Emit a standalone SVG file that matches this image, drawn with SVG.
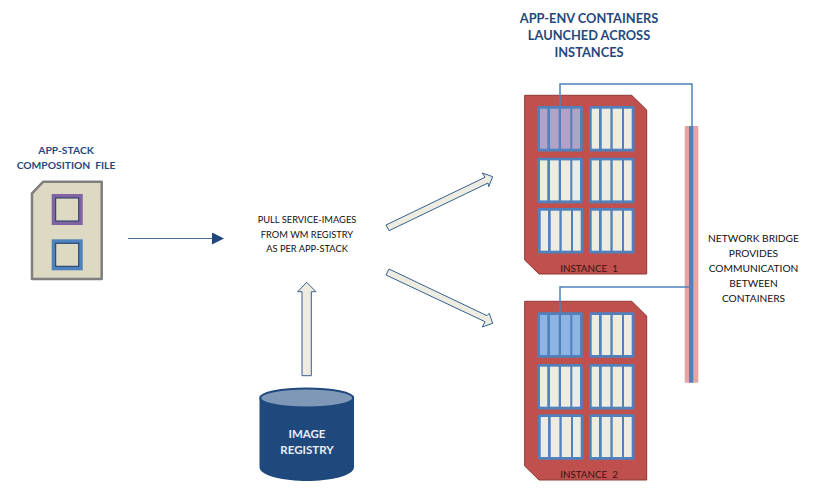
<svg xmlns="http://www.w3.org/2000/svg" xmlns:xlink="http://www.w3.org/1999/xlink" width="820" height="488" viewBox="0 0 820 488">
<style>
text{font-family:Lato,"Liberation Sans",sans-serif;text-anchor:middle;white-space:pre}
.h{font-weight:700;fill:#1f497d}
.hl{font-size:12.8px}
.hs{font-size:10.300px}
.b{font-size:10.200px;fill:#111}
.b2{font-size:9.300px;fill:#111}
.i{font-size:9.800px;fill:#3a1212}
.w{font-weight:700;font-size:11.500px;fill:#e8edf5}
.inst{fill:#c0504d;stroke:#8c3836;stroke-width:1}
.fr{fill:#4f81bd}
.c{fill:#eeece1}
.p{fill:#b3a2c7}
.l{fill:#8eb4e3}
.wire{fill:none;stroke:#4f81bd;stroke-width:1.500}
.blk{fill:#eeece1;stroke:#366092;stroke-width:1;stroke-linejoin:miter}
</style>
<defs>
<g id="frame">
<rect class="fr" x="0" y="0" width="45.500" height="45.500" rx="1.500"/>
</g>
<g id="cont">
<use xlink:href="#frame"/>
<rect class="c" x="2.700" y="2.700" width="7.300" height="40"/>
<rect class="c" x="12.700" y="2.700" width="8.700" height="40"/>
<rect class="c" x="23.700" y="2.700" width="9.300" height="40"/>
<rect class="c" x="35" y="2.700" width="7.700" height="40"/>
</g>
<g id="cell-p">
<use xlink:href="#frame"/>
<rect class="p" x="2.700" y="2.700" width="7.300" height="40"/>
<rect class="p" x="12.700" y="2.700" width="8.700" height="40"/>
<rect class="p" x="23.700" y="2.700" width="9.300" height="40"/>
<rect class="p" x="35" y="2.700" width="7.700" height="40"/>
</g>
<g id="cell-l">
<use xlink:href="#frame"/>
<rect class="l" x="2.700" y="2.700" width="7.300" height="40"/>
<rect class="l" x="12.700" y="2.700" width="8.700" height="40"/>
<rect class="l" x="23.700" y="2.700" width="9.300" height="40"/>
<rect class="l" x="35" y="2.700" width="7.700" height="40"/>
</g>
<marker id="tri" markerWidth="12" markerHeight="12" refX="11" refY="6" orient="auto" markerUnits="userSpaceOnUse"><path d="M0,0L12,6L0,12Z" fill="#1f497d"/></marker>
</defs>

<g id="title">
<text class="h hl" x="589" y="23">APP-ENV CONTAINERS</text>
<text class="h hl" x="589" y="40">LAUNCHED ACROSS</text>
<text class="h hl" x="589" y="57">INSTANCES</text>
</g>

<g id="composition-file">
<text class="h hs" x="66" y="154">APP-STACK</text>
<text class="h hs" x="66" y="169">COMPOSITION  FILE</text>
<path d="M32,193.300L43.300,181.700H101.700V279H32Z" fill="#ddd9c3" stroke="#7f7f7f" stroke-width="2.500" stroke-linejoin="round"/>
<rect x="53.700" y="196" width="27" height="27" fill="#ddd9c3" stroke="#8064a2" stroke-width="4"/>
<rect x="55.700" y="198" width="23" height="23" fill="none" stroke="#1f3864" stroke-width="1"/>
<rect x="53.700" y="241.300" width="27" height="27" fill="#ddd9c3" stroke="#4f81bd" stroke-width="4"/>
<rect x="55.700" y="243.300" width="23" height="23" fill="none" stroke="#1f3864" stroke-width="1"/>
</g>

<g id="pull-label">
<text class="b2" x="307" y="223">PULL SERVICE-IMAGES</text>
<text class="b2" x="307" y="238">FROM WM REGISTRY</text>
<text class="b2" x="307" y="252">AS PER APP-STACK</text>
</g>

<g id="image-registry">
<path d="M259.500,398V467C259.500,476 285,481 307,481C329,481 354,476 354,467V398Z" fill="#1f497d"/>
<ellipse cx="306.700" cy="398" rx="46.500" ry="9.500" fill="#7f98b8" stroke="#1f497d" stroke-width="2"/>
<text class="w" x="307" y="437.500">IMAGE</text>
<text class="w" x="307" y="453.500">REGISTRY</text>
</g>

<g id="instance-1">
<path class="inst" d="M524.700,95.300H631.700L646.700,110V274H539L524.700,260Z"/>
<use xlink:href="#cell-p" x="537.300" y="106"/>
<use xlink:href="#cont" x="589" y="106"/>
<use xlink:href="#cont" x="537.300" y="157.700"/>
<use xlink:href="#cont" x="589" y="157.700"/>
<use xlink:href="#cont" x="538" y="208"/>
<use xlink:href="#cont" x="589" y="208"/>
<text class="i" x="589" y="272">INSTANCE  1</text>
</g>

<g id="instance-2">
<path class="inst" d="M524.700,301.300H631.700L646.700,316V480H539L524.700,466Z"/>
<use xlink:href="#cell-l" x="537.300" y="312.300"/>
<use xlink:href="#cont" x="589" y="312.300"/>
<use xlink:href="#cont" x="537.300" y="364"/>
<use xlink:href="#cont" x="589" y="364"/>
<use xlink:href="#cont" x="538" y="414.300"/>
<use xlink:href="#cont" x="589" y="414.300"/>
<text class="i" x="589" y="478">INSTANCE  2</text>
</g>

<g id="network-bridge">
<rect x="684.700" y="126" width="13.600" height="256.700" fill="#e6a5a3"/>
<rect x="689" y="126" width="4.300" height="256.700" fill="#4f81bd"/>
<text class="b" x="753.500" y="242">NETWORK BRIDGE</text>
<text class="b" x="753.500" y="257">PROVIDES</text>
<text class="b" x="753.500" y="272">COMMUNICATION</text>
<text class="b" x="753.500" y="287">BETWEEN</text>
<text class="b" x="753.500" y="302">CONTAINERS</text>
</g>

<g id="connectors">
<path d="M128,238.500H223" fill="none" stroke="#4a6f9c" stroke-width="1.200" marker-end="url(#tri)"/>
<path class="wire" d="M560,106V84H692V126"/>
<path class="wire" d="M560,312.300V287H690"/>
<path class="blk" d="M302,375.700V291.700H297.700L306.700,282.300L316,291.700H311.300V375.700Z"/>
<path class="blk" d="M386,225L485,177.300L482.300,173L492.700,176.700L488.700,186.700L488,183L389,230.700Z"/>
<path class="blk" d="M389,269L487,315.700L489.300,313.300L492.700,323.300L482.300,327L485,321.700L386,275Z"/>
</g>
</svg>
